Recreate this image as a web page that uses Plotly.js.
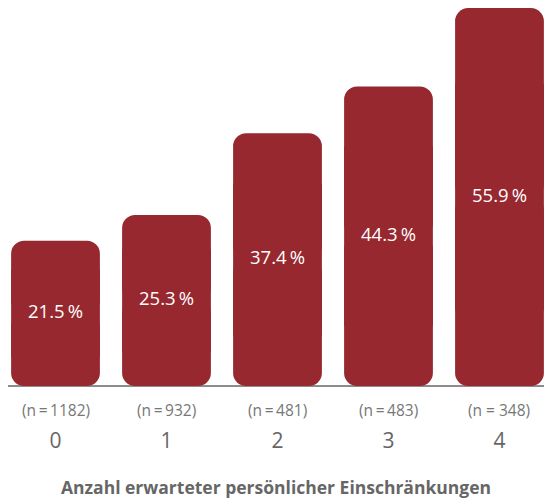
<!DOCTYPE html>
<html><head><meta charset="utf-8">
<script src="https://cdn.plot.ly/plotly-3.0.1.min.js"></script>
<style>html,body{margin:0;padding:0;background:#fff}</style>
</head><body><div id="chart" style="width:544px;height:501px"></div>
<script>
const categories = [0, 1, 2, 3, 4];
const tickLabels = ["0", "1", "2", "3", "4"];
const shares = [21.5, 25.3, 37.4, 44.3, 55.9];
const nLabels = ["(n\u2009=\u20091182)", "(n\u2009=\u2009932)", "(n\u2009=\u2009481)", "(n\u2009=\u2009483)", "(n = 348)"];
const xTitle = "Anzahl erwarteter persönlicher Einschränkungen";

const barColor = "#97282f";
const mids = shares.map(v => v / 2);
const common = {type: "bar", x: categories, hoverinfo: "skip", showlegend: false};
const upper = Object.assign({}, common, {
  base: mids, y: shares.map((v, i) => v - mids[i]),
  marker: {color: barColor, cornerradius: 13, line: {width: 0}}
});
const lower = Object.assign({}, common, {
  base: mids, y: mids.map(m => -m),
  marker: {color: barColor, cornerradius: 13, line: {width: 0}}
});
const middle = Object.assign({}, common, {
  base: shares.map(v => v * 0.2), y: shares.map(v => v * 0.6),
  marker: {color: barColor, line: {width: 0}}
});
const labels = {
  type: "scatter", mode: "text", x: categories, y: mids,
  text: shares.map(v => v.toFixed(1) + "\u2009%"),
  textfont: {family: "Open Sans, sans-serif", size: 18.5, color: "#ffffff"},
  textposition: "middle center", hoverinfo: "skip", showlegend: false, cliponaxis: false
};

const annotations = categories.map((c, i) => ({
  x: c, xref: "x", y: -0.062, yref: "paper", yanchor: "middle", showarrow: false,
  text: nLabels[i], font: {family: "Open Sans, sans-serif", size: 15.5, color: "#777777"}
}));

const layout = {
  width: 544, height: 501,
  margin: {l: 8, r: 0, t: 0, b: 115},
  paper_bgcolor: "#ffffff", plot_bgcolor: "#ffffff",
  barmode: "overlay", bargap: 0.2,
  xaxis: {
    range: [-0.428, 4.401], tickvals: categories, ticktext: tickLabels,
    showgrid: false, zeroline: false, showline: false, ticks: "",
    ticklabelstandoff: 40,
    tickfont: {family: "Open Sans, sans-serif", size: 21, color: "#666666"},
    title: {text: "<b>" + xTitle + "</b>", standoff: 28,
      font: {family: "Open Sans, sans-serif", size: 17.5, color: "#666666"}},
    automargin: false, fixedrange: true
  },
  yaxis: {
    range: [0, 57.1], visible: true, showticklabels: false, showgrid: false,
    zeroline: true, zerolinecolor: "#8c8c8c", zerolinewidth: 2, showline: false, ticks: "",
    fixedrange: true
  },
  annotations: annotations,
  showlegend: false
};
Plotly.newPlot("chart", [lower, upper, middle, labels], layout, {displayModeBar: false, staticPlot: true});
</script></body></html>
